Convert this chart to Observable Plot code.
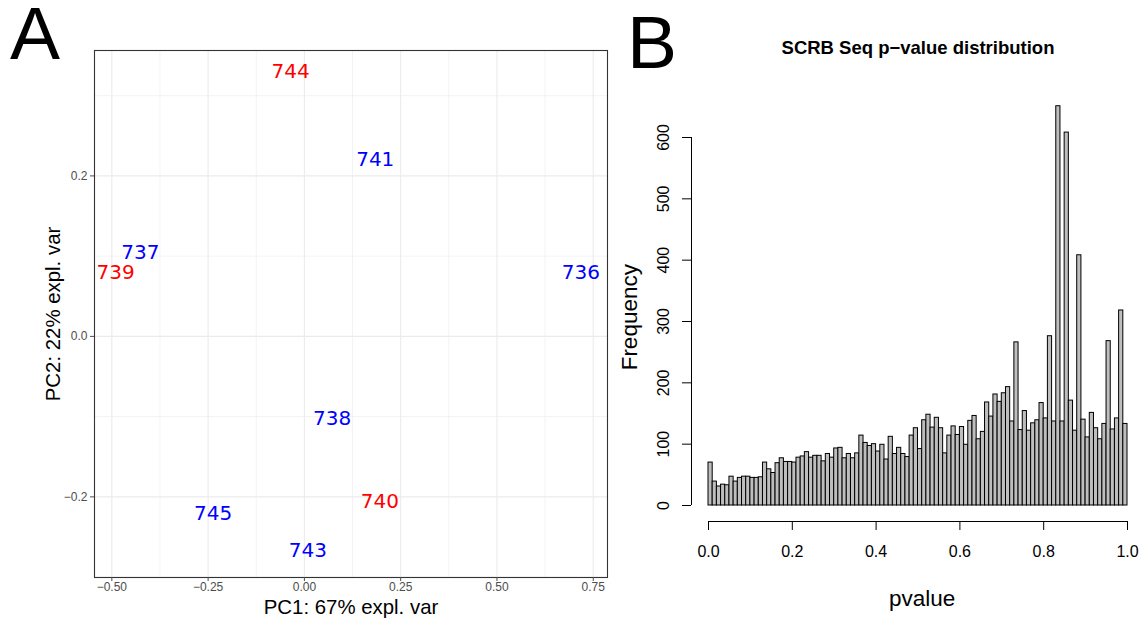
<!DOCTYPE html>
<html>
<head>
<meta charset="utf-8">
<script src="https://cdn.jsdelivr.net/npm/d3@7"></script>
<script src="https://cdn.jsdelivr.net/npm/@observablehq/plot@0.6"></script>
<style>
  body { margin: 0; background: #fff; }
  #wrap { position: relative; width: 1141px; height: 621px; overflow: hidden; background: #fff; }
  #wrap svg { position: absolute; top: 0; }
  .panel-letter { position: absolute; font-family: "Liberation Sans", Arial, sans-serif; font-size: 75px; line-height: 60px; height: 60px; color: #000; }
</style>
</head>
<body>
<div id="wrap">
  <div class="panel-letter" style="left:10px; top:3px;">A</div>
  <div class="panel-letter" style="left:627px; top:12px;">B</div>
</div>
<script>
// ---------- Panel A: PCA ----------
const sampleIds = ["744", "741", "737", "739", "736", "738", "740", "745", "743"];
const pc1Values = [-0.036, 0.184, -0.426, -0.490, 0.718, 0.072, 0.196, -0.237, 0.009];
const pc2Values = [0.330, 0.220, 0.104, 0.080, 0.080, -0.102, -0.206, -0.221, -0.267];
const sampleGroup = ["red", "blue", "blue", "red", "blue", "blue", "red", "blue", "blue"];
const groupNames = ["red", "blue"];
const groupColors = ["#FF0000", "#0000FF"];
const pcaXTicks = [-0.5, -0.25, 0, 0.25, 0.5, 0.75];
const pcaXMinor = [-0.375, -0.125, 0.125, 0.375, 0.625];
const pcaYTicks = [-0.2, 0, 0.2];
const pcaYMinor = [-0.3, -0.1, 0.1, 0.3];
const pcaXTitle = "PC1: 67% expl. var";
const pcaYTitle = "PC2: 22% expl. var";

// ---------- Panel B: histogram ----------
const histTitle = "SCRB Seq p\u2212value distribution";
const histXTitle = "pvalue";
const histYTitle = "Frequency";
const binStart = 0;
const binWidth = 0.01;
const binCounts = [
  70, 39, 31, 34, 33, 47, 39, 45, 47, 47,
  45, 45, 46, 70, 59, 53, 69, 77, 71, 71,
  70, 78, 80, 87, 78, 81, 81, 72, 84, 78,
  93, 94, 77, 84, 77, 85, 114, 102, 97, 100,
  88, 99, 75, 112, 84, 94, 84, 79, 114, 126,
  92, 139, 148, 127, 143, 126, 85, 114, 129, 115,
  128, 99, 138, 146, 108, 120, 168, 145, 181, 169,
  183, 193, 137, 266, 123, 154, 122, 134, 139, 167,
  142, 276, 137, 651, 137, 608, 171, 122, 408, 140,
  111, 151, 126, 108, 133, 268, 124, 142, 318, 133
];
const histXTicks = [0, 0.2, 0.4, 0.6, 0.8, 1.0];
const histYTicks = [0, 100, 200, 300, 400, 500, 600];

const sansFont = "'Liberation Sans', Arial, Helvetica, sans-serif";

const samples = sampleIds.map((id, i) => ({id, pc1: pc1Values[i], pc2: pc2Values[i], group: sampleGroup[i]}));

const plotA = Plot.plot({
  width: 620,
  height: 621,
  marginLeft: 94,
  marginRight: 13,
  marginTop: 50,
  marginBottom: 44,
  x: {domain: [-0.545, 0.787]},
  y: {domain: [-0.3005, 0.3563]},
  color: {domain: groupNames, range: groupColors},
  style: {fontFamily: sansFont, background: "transparent", overflow: "visible"},
  marks: [
    Plot.ruleX(pcaXMinor, {stroke: "#ebebeb", strokeWidth: 0.6}),
    Plot.ruleY(pcaYMinor, {stroke: "#ebebeb", strokeWidth: 0.6}),
    Plot.ruleX(pcaXTicks, {stroke: "#ebebeb", strokeWidth: 1.1}),
    Plot.ruleY(pcaYTicks, {stroke: "#ebebeb", strokeWidth: 1.1}),
    Plot.frame({stroke: "#333333", strokeWidth: 1.1}),
    Plot.axisX({ticks: pcaXTicks, tickSize: 4, tickPadding: 1, tickFormat: d3.format(".2f"), fontSize: 12, color: "#4d4d4d", label: null}),
    Plot.axisY({ticks: pcaYTicks, tickSize: 4, tickPadding: 3, tickFormat: d3.format(".1f"), fontSize: 12, color: "#4d4d4d", label: null}),
    Plot.text(samples, {x: "pc1", y: "pc2", text: "id", fill: "group", fontSize: 20, fontFamily: "'DejaVu Sans', sans-serif"}),
    Plot.text([pcaXTitle], {text: d => d, frameAnchor: "bottom", lineAnchor: "middle", textAnchor: "middle", dy: 30, fontSize: 20.4, fill: "#000"}),
    Plot.text([pcaYTitle], {text: d => d, frameAnchor: "left", lineAnchor: "middle", textAnchor: "middle", rotate: -90, dx: -41, fontSize: 20.4, fill: "#000"})
  ]
});
plotA.style.left = "0px";

const bins = binCounts.map((c, i) => ({x1: binStart + i * binWidth, x2: binStart + (i + 1) * binWidth, count: c}));

const plotB = Plot.plot({
  width: 541,
  height: 621,
  marginLeft: 91,
  marginRight: 14,
  marginTop: 0,
  marginBottom: 100,
  x: {domain: [0, 1], range: [108, 527]},
  y: {domain: [0, 600], range: [505, 137]},
  style: {fontFamily: sansFont, background: "transparent", overflow: "visible"},
  marks: [
    Plot.rectY(bins, {x1: "x1", x2: "x2", y1: 0, y2: "count", fill: "#bebebe", stroke: "#000", strokeWidth: 1}),
    Plot.ruleX([0], {y1: 0, y2: 600, dx: -17, stroke: "#000", strokeWidth: 1}),
    Plot.ruleY([0], {x1: 0, x2: 1, dy: 16, stroke: "#000", strokeWidth: 1}),
    Plot.axisY({ticks: histYTicks, tickSize: 9, tickFormat: () => "", label: null, color: "#000"}),
    Plot.text(histYTicks, {y: d => d, text: d => String(d), frameAnchor: "left", textAnchor: "middle", lineAnchor: "middle", dx: -28, rotate: -90, fontSize: 16, fill: "#000"}),
    Plot.axisX({ticks: histXTicks, tickSize: 9, tickPadding: 15, tickFormat: d3.format(".1f"), fontSize: 16, color: "#000", label: null}),
    Plot.text([histTitle], {text: d => d, x: () => 0.5, frameAnchor: "top", lineAnchor: "middle", dy: 48, fontSize: 18.5, fontWeight: "bold", fill: "#000"}),
    Plot.text([histXTitle], {text: d => d, x: () => 0.51, frameAnchor: "bottom", lineAnchor: "middle", dy: 77, fontSize: 22.5, fill: "#000"}),
    Plot.text([histYTitle], {text: d => d, y: () => 307, frameAnchor: "left", textAnchor: "middle", lineAnchor: "middle", dx: -62, rotate: -90, fontSize: 22.5, fill: "#000"})
  ]
});
plotB.style.left = "600px";

const wrap = document.getElementById("wrap");
wrap.appendChild(plotA);
wrap.appendChild(plotB);
</script>
</body>
</html>
